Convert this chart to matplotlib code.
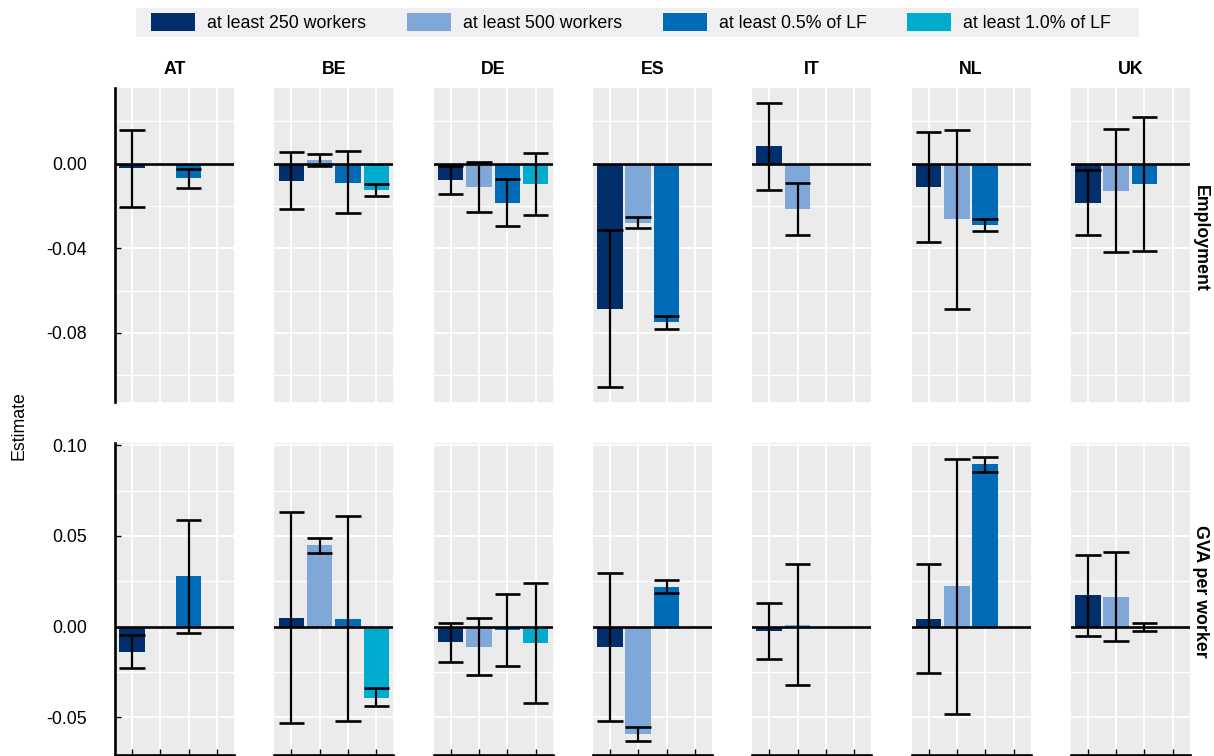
import numpy as np
import matplotlib
matplotlib.use("Agg")
import matplotlib.pyplot as plt
from matplotlib.patches import Patch, Rectangle
from matplotlib.ticker import MultipleLocator, FormatStrFormatter
from matplotlib import font_manager

# ---- data -----------------------------------------------------------------
countries = ["AT", "BE", "DE", "ES", "IT", "NL", "UK"]
series = ["at least 250 workers", "at least 500 workers",
          "at least 0.5% of LF", "at least 1.0% of LF"]
colors = ["#002F6C", "#7FA8D9", "#006BB6", "#00ACCD"]
outcomes = ["Employment", "GVA per worker"]

nan = np.nan
# rows: countries, columns: series
emp_est = [[-0.0023, nan, -0.0068, nan],
           [-0.0082, 0.0016, -0.0090, -0.0124],
           [-0.0077, -0.0112, -0.0185, -0.0096],
           [-0.0686, -0.0281, -0.0748, nan],
           [0.0082, -0.0214, nan, nan],
           [-0.0110, -0.0263, -0.0290, nan],
           [-0.0186, -0.0129, -0.0096, nan]]
emp_lo = [[-0.0205, nan, -0.0115, nan],
          [-0.0217, -0.0011, -0.0236, -0.0153],
          [-0.0142, -0.0230, -0.0296, -0.0241],
          [-0.1058, -0.0307, -0.0780, nan],
          [-0.0126, -0.0339, nan, nan],
          [-0.0369, -0.0687, -0.0320, nan],
          [-0.0337, -0.0417, -0.0411, nan]]
emp_hi = [[0.0160, nan, -0.0024, nan],
          [0.0055, 0.0043, 0.0058, -0.0098],
          [-0.0013, 0.0008, -0.0073, 0.0050],
          [-0.0315, -0.0252, -0.0721, nan],
          [0.0288, -0.0090, nan, nan],
          [0.0149, 0.0160, -0.0262, nan],
          [-0.0032, 0.0162, 0.0222, nan]]

gva_est = [[-0.0141, nan, 0.0279, nan],
           [0.0048, 0.0449, 0.0044, -0.0393],
           [-0.0086, -0.0115, -0.0020, -0.0091],
           [-0.0115, -0.0595, 0.0219, nan],
           [-0.0026, 0.0009, nan, nan],
           [0.0044, 0.0225, 0.0898, nan],
           [0.0175, 0.0164, -0.0004, nan]]
gva_lo = [[-0.0226, nan, -0.0037, nan],
          [-0.0533, 0.0407, -0.0522, -0.0436],
          [-0.0193, -0.0265, -0.0217, -0.0423],
          [-0.0522, -0.0630, 0.0184, nan],
          [-0.0181, -0.0321, nan, nan],
          [-0.0256, -0.0480, 0.0854, nan],
          [-0.0051, -0.0082, -0.0024, nan]]
gva_hi = [[-0.0046, nan, 0.0590, nan],
          [0.0632, 0.0491, 0.0612, -0.0340],
          [0.0020, 0.0046, 0.0179, 0.0239],
          [0.0296, -0.0555, 0.0256, nan],
          [0.0130, 0.0343, nan, nan],
          [0.0343, 0.0927, 0.0936, nan],
          [0.0396, 0.0409, 0.0018, nan]]

y_major = [0.04, 0.05]
y_minor = [0.02, 0.025]

# ---- fonts ----------------------------------------------------------------
installed = {f.name for f in font_manager.fontManager.ttflist}
if "Liberation Sans Narrow" in installed:
    family = ["Liberation Sans Narrow", "DejaVu Sans"]
    fs = 15.0
else:
    family = ["Liberation Sans", "DejaVu Sans"]
    fs = 12.8
plt.rcParams["font.family"] = family
plt.rcParams["axes.unicode_minus"] = False

# ---- layout (pixels) ------------------------------------------------------
W, H = 1214, 756
fig = plt.figure(figsize=(W / 100, H / 100), dpi=100)

panel_left0, panel_step, panel_w = 115.0, 159.3, 119.0
rows_px = [(88.3, 401.7), (442.7, 755.0)]


def px_box(x0, y0, x1, y1):
    return [x0 / W, 1 - y1 / H, (x1 - x0) / W, (y1 - y0) / H]


data = [(emp_est, emp_lo, emp_hi), (gva_est, gva_lo, gva_hi)]
xpos = np.arange(1, len(series) + 1)
half = 0.45

for r, outcome in enumerate(outcomes):
    est_all, lo_all, hi_all = (np.array(a, dtype=float) for a in data[r])
    ymin, ymax = np.nanmin(lo_all), np.nanmax(hi_all)
    pad = 0.05 * (ymax - ymin)
    top_px, bot_px = rows_px[r]
    for c, country in enumerate(countries):
        x0 = panel_left0 + c * panel_step
        ax = fig.add_axes(px_box(x0, top_px, x0 + panel_w, bot_px))
        ax.set_facecolor("#EBEBEB")
        ax.set_axisbelow(True)

        est, lo, hi = est_all[c], lo_all[c], hi_all[c]
        m = ~np.isnan(est)
        ax.bar(xpos[m], est[m], width=0.9, color=np.array(colors)[m],
               zorder=2)
        ax.axhline(0, color="black", lw=1.9, zorder=3)
        ax.vlines(xpos[m], lo[m], hi[m], color="black", lw=1.6, zorder=4)
        ax.hlines(np.r_[lo[m], hi[m]],
                  np.r_[xpos[m] - half, xpos[m] - half],
                  np.r_[xpos[m] + half, xpos[m] + half],
                  color="black", lw=1.9, zorder=4)

        ax.set_xlim(0.4, len(series) + 0.6)
        ax.set_ylim(ymin - pad, ymax + pad)
        ax.set_xticks(xpos)
        ax.yaxis.set_major_locator(MultipleLocator(y_major[r]))
        ax.yaxis.set_minor_locator(MultipleLocator(y_minor[r]))
        ax.yaxis.set_major_formatter(FormatStrFormatter("%.2f"))

        ax.grid(which="major", color="white", lw=1.3)
        ax.grid(which="minor", axis="y", color="white", lw=1.0)

        ax.tick_params(which="major", direction="in", length=4.5, width=1.0,
                       color="black", labelsize=fs, pad=20)
        ax.tick_params(which="minor", length=0)
        ax.tick_params(axis="x", labelbottom=False)
        if c > 0:
            ax.tick_params(axis="y", left=False, labelleft=False)
        if r == 0:
            ax.tick_params(axis="x", bottom=False)

        for side in ("top", "right", "left", "bottom"):
            ax.spines[side].set_visible(False)
        if c == 0:
            ax.spines["left"].set_visible(True)
            ax.spines["left"].set_linewidth(1.9)
        if r == 1:
            ax.spines["bottom"].set_visible(True)
            ax.spines["bottom"].set_linewidth(1.9)

        if r == 0:
            fig.text((x0 + panel_w / 2) / W, 1 - 70 / H, country,
                     ha="center", va="center", fontsize=fs,
                     fontweight="bold")

    fig.text(1200 / W, 1 - ((top_px + bot_px) / 2 - 7) / H, outcome,
             rotation=270, ha="center", va="center", fontsize=fs,
             fontweight="bold")

fig.text(19 / W, 1 - 426 / H, "Estimate", rotation=90, ha="center",
         va="center", fontsize=fs)

# ---- legend ---------------------------------------------------------------
fig.patches.append(Rectangle((136 / W, 1 - 37 / H), 1003 / W, 29 / H,
                             transform=fig.transFigure, facecolor="#F0EFF2",
                             edgecolor="none", zorder=0))
fs_px = fs * 100 / 72
handles = [Patch(facecolor=col, edgecolor="none") for col in colors]
leg = fig.legend(handles, series, loc="center", ncol=4, mode="expand",
                 bbox_to_anchor=(151 / W, 1 - 37 / H, 960 / W, 29 / H),
                 frameon=False, fontsize=fs,
                 handlelength=44 / fs_px, handleheight=21 / fs_px,
                 handletextpad=12 / fs_px, borderpad=0,
                 borderaxespad=0)

fig.savefig("out.png", dpi=100)
